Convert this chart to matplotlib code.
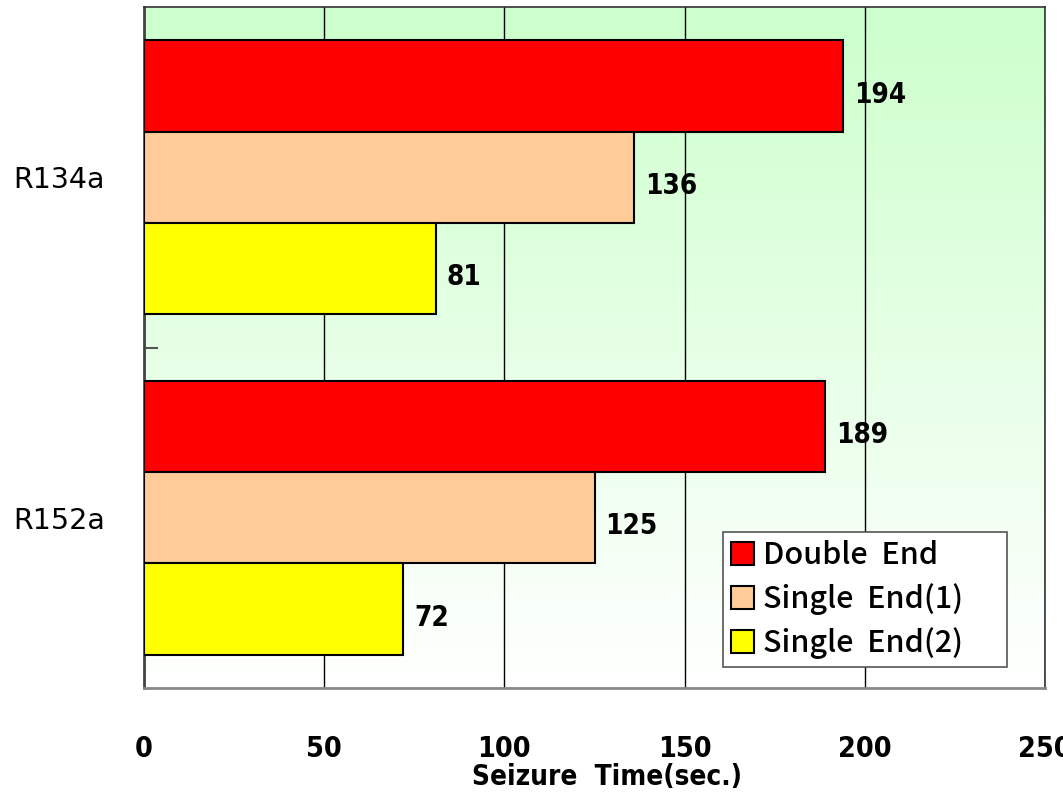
import matplotlib.pyplot as plt
import numpy as np
from matplotlib.colors import LinearSegmentedColormap

refrigerants = ['R152a', 'R134a']
series = ['Double  End', 'Single  End(1)', 'Single  End(2)']
double_end = [189, 194]
single_end1 = [125, 136]
single_end2 = [72, 81]
colors = ['#ff0000', '#ffcc99', '#ffff00']

plt.rcParams['font.family'] = ['DejaVu Sans']

fig = plt.figure(figsize=(10.63, 7.92), dpi=100)
ax = fig.add_axes([144 / 1063, 1 - 688 / 792, 901 / 1063, 681 / 792])

# green-to-white backdrop
cmap = LinearSegmentedColormap.from_list('bg', ['#ffffff', '#ccffcc'])
grad = np.linspace(0, 1, 256).reshape(-1, 1)
ax.imshow(grad, cmap=cmap, aspect='auto', origin='lower',
          extent=[0, 250, -0.5, 1.5], zorder=0)

h = 0.268
y = np.arange(len(refrigerants))
for vals, off, c, lab in zip([double_end, single_end1, single_end2],
                             [h, 0, -h], colors, series):
    bars = ax.barh(y + off, vals, height=h, color=c, edgecolor='black',
                   linewidth=1.5, label=lab, zorder=3)
    for b, v in zip(bars, vals):
        ax.text(v + 3, b.get_y() + b.get_height() / 2 - 0.025, str(v),
                va='center', ha='left', fontsize=20, fontweight='bold',
                stretch='condensed', zorder=4)

ax.set_xlim(0, 250)
ax.set_ylim(-0.5, 1.5)
ax.set_xticks([0, 50, 100, 150, 200, 250])
ax.tick_params(axis='x', length=0, pad=34, labelsize=20.5)
for t in ax.get_xticklabels():
    t.set_fontweight('bold')
    t.set_stretch('condensed')
ax.set_yticks(y)
ax.set_yticklabels(refrigerants, fontsize=20.5)
ax.tick_params(axis='y', length=0, pad=28)
ax.set_yticks([0.5], minor=True)
ax.tick_params(axis='y', which='minor', direction='in', length=10,
               color='#555555', width=1.5)
ax.grid(axis='x', color='black', linewidth=1, zorder=1)
ax.set_axisbelow(True)

for s in ['top', 'right']:
    ax.spines[s].set_color('#333333')
    ax.spines[s].set_linewidth(1.2)
ax.spines['left'].set_color('#444444')
ax.spines['left'].set_linewidth(2)
ax.spines['bottom'].set_color('#888888')
ax.spines['bottom'].set_linewidth(2)

ax.set_xlabel('Seizure  Time(sec.)', fontsize=20, fontweight='bold',
              stretch='condensed', labelpad=0)
ax.xaxis.set_label_coords(0.514, -0.11)

# legend box spans a fixed width in axes coordinates
leg = ax.legend(loc='lower left',
                bbox_to_anchor=(579 / 901, 0.031, 284 / 901, 0.2),
                mode='expand', frameon=True, fancybox=False, framealpha=1,
                edgecolor='#555555', handlelength=0.75, handleheight=0.75,
                handletextpad=0.3, borderpad=0.25, labelspacing=0.4,
                borderaxespad=0,
                prop={'family': 'Noto Sans CJK JP', 'size': 22,
                      'weight': 'medium'})
leg.get_frame().set_linewidth(1.2)

fig.savefig('out.png', dpi=100)
